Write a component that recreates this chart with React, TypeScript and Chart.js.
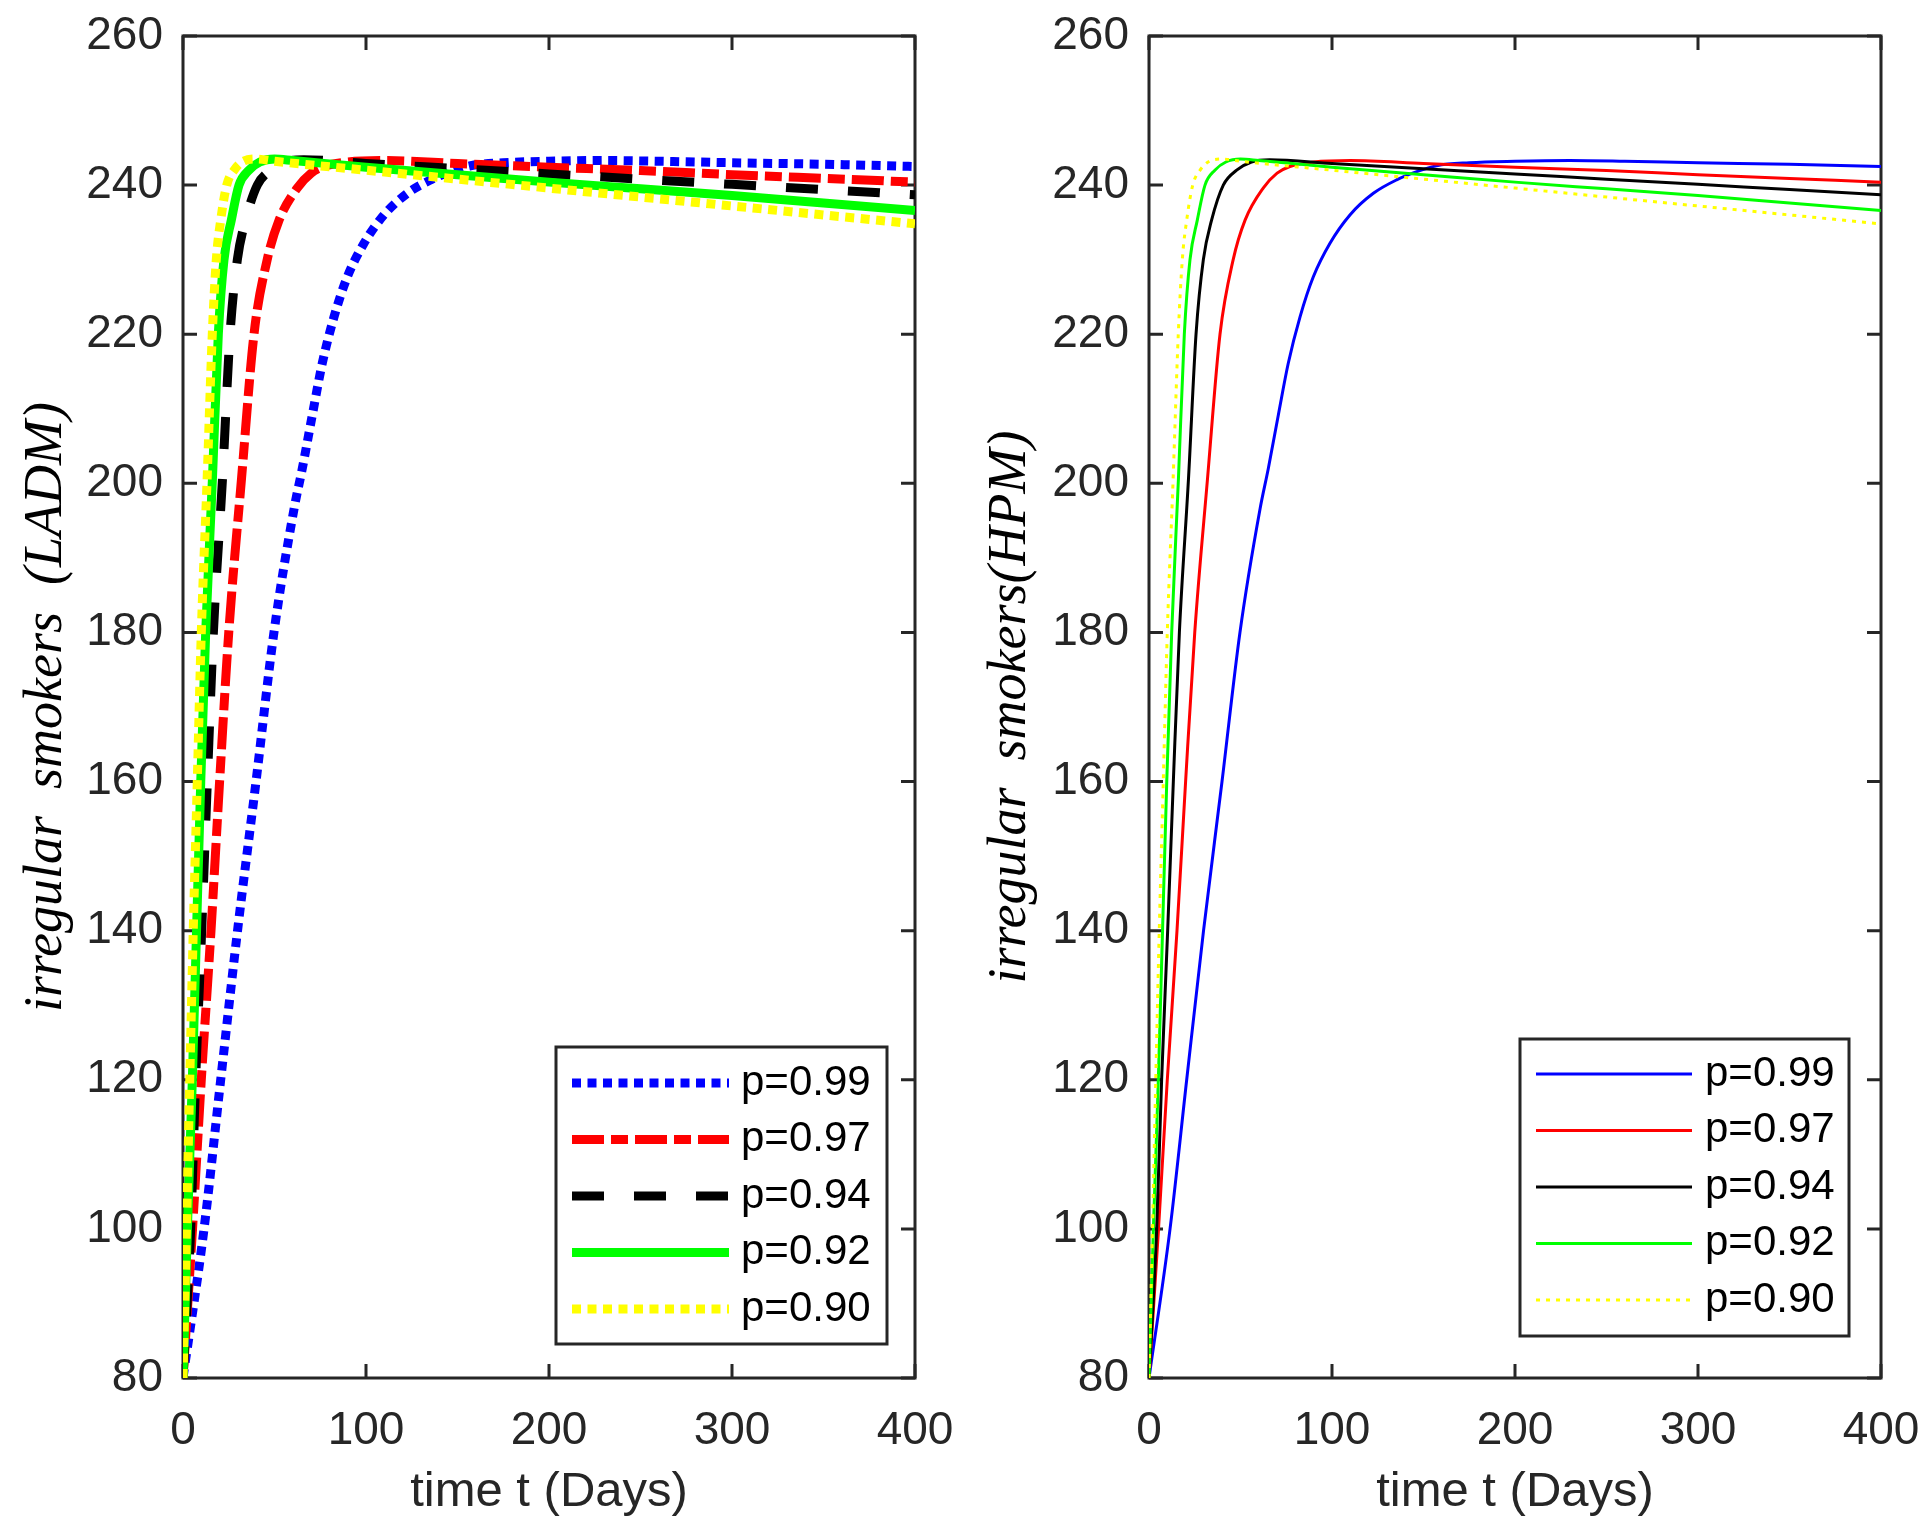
import { useEffect, useRef } from 'react';
import { Chart, registerables } from 'chart.js';

Chart.register(...registerables);

// p = 0.99
const tP99 = [0, 11.5, 20.6, 29.8, 39.9, 49.7, 60.7, 65.2, 70.7, 76.1, 82.5, 89.8, 98.9, 109.8, 122.6, 135.3, 146.3, 157.2, 175, 200, 230, 260, 300, 350, 400];
const vP99 = [80, 100, 120, 140, 160, 180, 196.6, 202.0, 209.2, 216.1, 222.3, 227.7, 232.2, 236.0, 238.9, 240.7, 241.8, 242.6, 243.0, 243.2, 243.3, 243.2, 243.0, 242.8, 242.5];
// p = 0.97
const tP97 = [0, 5.2, 10, 15.3, 20, 25, 32, 38.8, 46, 52.5, 62.4, 70, 77, 90, 110, 150, 200, 250, 300, 350, 400];
const vP97 = [80, 100, 120, 140, 160, 180, 200.7, 220, 230, 235.3, 239.6, 241.6, 242.5, 243.1, 243.3, 242.9, 242.4, 241.95, 241.4, 240.9, 240.4];
// p = 0.94
const tP94 = [0, 4.2, 6.9, 10.2, 13.3, 16.6, 21.6, 25.7, 29.7, 34.2, 40.6, 47.9, 56, 66, 100, 150, 200, 250, 300, 350, 400];
const vP94 = [80, 100, 120, 140, 160, 180, 200.7, 220, 230, 235.3, 240, 242, 243.1, 243.4, 242.9, 242.2, 241.5, 240.8, 240.1, 239.4, 238.7];
// p = 0.92
const tP92 = [0, 2.4, 5.1, 7.4, 9.7, 12.4, 16.1, 19.3, 22.4, 26.4, 30.6, 36, 42, 50, 60, 100, 150, 200, 250, 300, 350, 400];
const vP92 = [80, 100, 120, 140, 160, 180, 200.7, 220, 230, 235.3, 240, 242, 243.1, 243.5, 243.3, 242.4, 241.4, 240.4, 239.5, 238.6, 237.6, 236.6];
// p = 0.90
const tP90 = [0, 1.9, 3.7, 5.6, 7.8, 10, 13.2, 16, 18.2, 20.6, 23.9, 27.9, 33, 40, 50, 100, 150, 200, 250, 300, 350, 400];
const vP90 = [80, 100, 120, 140, 160, 180, 200.7, 220, 230, 235.3, 240, 242, 243.2, 243.5, 243.2, 242.0, 240.8, 239.6, 238.4, 237.2, 236.0, 234.8];

const seriesLabels = ['p=0.99', 'p=0.97', 'p=0.94', 'p=0.92', 'p=0.90'];
const seriesT = [tP99, tP97, tP94, tP92, tP90];
const seriesV = [vP99, vP97, vP94, vP92, vP90];
const colors = ['#0000ff', '#ff0000', '#000000', '#00ff00', '#ffff00'];

const AXIS = '#262626';

const framePlugin = {
  id: 'frame',
  beforeDatasetsDraw(chart: any) {
    const { ctx, chartArea: a, scales } = chart;
    const len = 14;
    ctx.save();
    ctx.strokeStyle = AXIS;
    ctx.lineWidth = 3;
    ctx.strokeRect(a.left, a.top, a.right - a.left, a.bottom - a.top);
    ctx.beginPath();
    scales.x.ticks.forEach((t: any) => {
      const px = scales.x.getPixelForValue(t.value);
      ctx.moveTo(px, a.bottom); ctx.lineTo(px, a.bottom - len);
      ctx.moveTo(px, a.top); ctx.lineTo(px, a.top + len);
    });
    scales.y.ticks.forEach((t: any) => {
      const py = scales.y.getPixelForValue(t.value);
      ctx.moveTo(a.left, py); ctx.lineTo(a.left + len, py);
      ctx.moveTo(a.right, py); ctx.lineTo(a.right - len, py);
    });
    ctx.stroke();
    ctx.restore();
  },
};

const boxLegend = {
  id: 'boxLegend',
  afterDraw(chart: any, _args: any, o: any) {
    const { ctx, chartArea: a } = chart;
    const x0 = a.right - o.right - o.width;
    const y0 = a.bottom - o.bottom - o.height;
    ctx.save();
    ctx.fillStyle = '#fff';
    ctx.fillRect(x0, y0, o.width, o.height);
    ctx.strokeStyle = AXIS;
    ctx.lineWidth = 3;
    ctx.strokeRect(x0, y0, o.width, o.height);
    chart.data.datasets.forEach((ds: any, i: number) => {
      const cy = y0 + o.rowTop + i * o.rowGap;
      ctx.beginPath();
      ctx.strokeStyle = ds.borderColor;
      ctx.lineWidth = ds.borderWidth;
      ctx.setLineDash(ds.borderDash || []);
      ctx.moveTo(x0 + o.lineStart, cy);
      ctx.lineTo(x0 + o.lineStart + o.lineLen, cy);
      ctx.stroke();
      ctx.setLineDash([]);
      ctx.fillStyle = '#000';
      ctx.font = '42px "Liberation Sans", Arial, sans-serif';
      ctx.textBaseline = 'middle';
      ctx.fillText(ds.label, x0 + o.textX, cy);
    });
    ctx.restore();
  },
};

function makeChart(canvas: HTMLCanvasElement, variant: 'ladm' | 'hpm') {
  const thick = variant === 'ladm';
  const dashes = thick
    ? [[9, 6.5], [32, 7, 17, 7], [32, 30], [], [9, 6.5]]
    : [[], [], [], [], [4, 6]];
  const datasets = seriesLabels.map((label, i) => ({
    label,
    data: seriesT[i].map((t, k) => ({ x: t, y: seriesV[i][k] })),
    borderColor: colors[i],
    borderWidth: thick ? 9 : 3,
    borderDash: dashes[i],
    pointRadius: 0,
    fill: false,
    cubicInterpolationMode: 'monotone' as const,
    order: 5 - i,
  }));
  const yWidth = thick ? 183 : 185;
  const rightPad = thick ? 49 : 47;
  return new Chart(canvas, {
    type: 'line',
    data: { datasets },
    options: {
      animation: false,
      responsive: true,
      maintainAspectRatio: false,
      devicePixelRatio: 1,
      layout: { padding: { left: 0, right: rightPad, top: 36, bottom: 0 } },
      plugins: {
        legend: { display: false },
        tooltip: { enabled: false },
        boxLegend: thick
          ? { right: 28, bottom: 34, width: 331, height: 297, rowTop: 36, rowGap: 56.5, lineStart: 16, lineLen: 157, textX: 185 }
          : { right: 32, bottom: 42, width: 329, height: 297, rowTop: 35, rowGap: 56.5, lineStart: 16, lineLen: 156, textX: 185 },
      } as any,
      scales: {
        x: {
          type: 'linear',
          min: 0,
          max: 400,
          grid: { display: false, drawTicks: false },
          border: { display: false },
          ticks: { stepSize: 100, color: AXIS, padding: 26, font: { family: '"Liberation Sans", Arial', size: 46 } },
          title: {
            display: true,
            text: 'time t (Days)',
            color: AXIS,
            padding: { top: 0, bottom: 18 },
            font: { family: '"Liberation Sans", Arial', size: 49 },
          },
          afterFit: (s: any) => {
            s.height = 162;
            s.paddingLeft = 0;
            s.paddingRight = 0;
          },
        },
        y: {
          min: 80,
          max: 260,
          grid: { display: false, drawTicks: false },
          border: { display: false },
          ticks: { stepSize: 20, color: AXIS, padding: 20, font: { family: '"Liberation Sans", Arial', size: 46 } },
          title: {
            display: true,
            text: thick ? 'irregular  smokers  (LADM)' : 'irregular  smokers(HPM)',
            color: '#000',
            padding: { top: 14, bottom: 0 },
            font: { family: '"Liberation Serif", serif', size: 54, style: 'italic' },
          },
          afterFit: (s: any) => {
            s.width = yWidth;
            s.paddingTop = 0;
            s.paddingBottom = 0;
          },
        },
      },
    },
    plugins: [framePlugin, boxLegend],
  });
}

function Panel({ variant, left }: { variant: 'ladm' | 'hpm'; left: number }) {
  const ref = useRef<HTMLCanvasElement>(null);
  useEffect(() => {
    if (!ref.current) return;
    const chart = makeChart(ref.current, variant);
    return () => chart.destroy();
  }, [variant]);
  return (
    <div style={{ position: 'absolute', left, top: 0, width: 964, height: 1540 }}>
      <canvas ref={ref} />
    </div>
  );
}

export default function App() {
  return (
    <div style={{ position: 'absolute', left: 0, top: 0, width: 1928, height: 1540, background: '#fff' }}>
      <Panel variant="ladm" left={0} />
      <Panel variant="hpm" left={964} />
    </div>
  );
}
